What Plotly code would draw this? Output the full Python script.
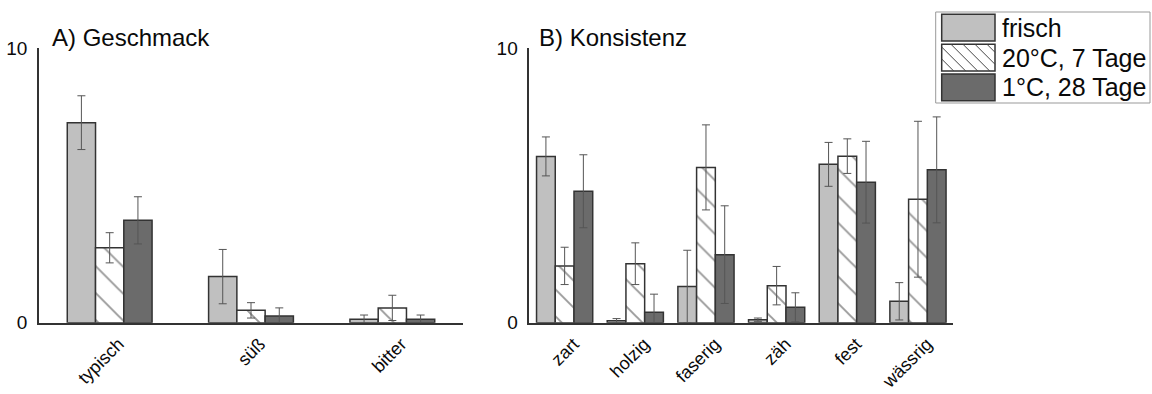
import plotly.graph_objects as go

W, H = 1152, 394

# ---------------- data ----------------
cats_a = ["typisch", "süß", "bitter"]
cats_b = ["zart", "holzig", "faserig", "zäh", "fest", "wässrig"]
series = ["frisch", "20°C, 7 Tage", "1°C, 28 Tage"]

a_frisch = [7.29, 1.68, 0.13]
a_frisch_err = [0.98, 0.99, 0.15]
a_20 = [2.73, 0.45, 0.54]
a_20_err = [0.55, 0.28, 0.46]
a_1 = [3.73, 0.24, 0.13]
a_1_err = [0.86, 0.30, 0.15]

b_frisch = [6.06, 0.07, 1.32, 0.11, 5.77, 0.78]
b_frisch_err = [0.71, 0.08, 1.32, 0.06, 0.80, 0.68]
b_20 = [2.07, 2.15, 5.66, 1.35, 6.07, 4.50]
b_20_err = [0.68, 0.76, 1.55, 0.70, 0.63, 2.84]
b_1 = [4.79, 0.38, 2.48, 0.56, 5.12, 5.57]
b_1_err = [1.33, 0.66, 1.78, 0.53, 1.49, 1.93]

y_ticks = [0, 10]

# ---------------- styles ----------------
FONT = "Liberation Sans, Arial, sans-serif"
OUT = "#333333"
LIGHT = "#c0c0c0"
DARK = "#6b6b6b"
TXT = "#0a0a0a"
ERR = dict(type="data", color="#555555", thickness=1, width=4)

styles = [
    dict(marker=dict(color=LIGHT, line=dict(color=OUT, width=1.5))),
    dict(marker=dict(color="white", line=dict(color=OUT, width=1.5),
                     pattern=dict(shape="\\", fgcolor="#333333", bgcolor="white",
                                  size=19, solidity=0.1))),
    dict(marker=dict(color=DARK, line=dict(color=OUT, width=1.5))),
]

fig = go.Figure()

def add_panel(cats, vals, errs, xa, ya, bw):
    offs = [-1.5 * bw, -0.5 * bw, 0.5 * bw]
    for i, (v, e) in enumerate(zip(vals, errs)):
        fig.add_trace(go.Bar(
            x=cats, y=v, name=series[i], showlegend=False,
            width=bw, offset=offs[i],
            error_y=dict(array=e, **ERR),
            xaxis=xa, yaxis=ya, **styles[i]))

add_panel(cats_a, [a_frisch, a_20, a_1], [a_frisch_err, a_20_err, a_1_err], "x", "y", 0.2)
add_panel(cats_b, [b_frisch, b_20, b_1], [b_frisch_err, b_20_err, b_1_err], "x2", "y2", 0.265)

def px(x):
    return x / W

def py(y):
    return 1 - y / H

ydom = [py(322.7), py(48.3)]
xcommon = dict(showline=True, linecolor=OUT, linewidth=1.5, ticks="", showgrid=False,
               zeroline=False, tickangle=-45, ticklabelstandoff=2, ticklabelshift=9,
               tickfont=dict(family=FONT, size=18, color=TXT),
               fixedrange=True)
ycommon = dict(showline=True, linecolor=OUT, linewidth=1.5, ticks="", showgrid=False,
               zeroline=False, range=[0, 10], tickvals=y_ticks, ticktext=[str(t) for t in y_ticks],
               ticklabelstandoff=6,
               tickfont=dict(family=FONT, size=19, color=TXT), fixedrange=True)

fig.update_layout(
    width=W, height=H,
    margin=dict(l=0, r=0, t=0, b=0, autoexpand=False),
    paper_bgcolor="white", plot_bgcolor="white",
    barmode="overlay",
    font=dict(family=FONT, color=TXT),
    xaxis=dict(domain=[px(39), px(463)], anchor="y", **xcommon),
    yaxis=dict(domain=ydom, anchor="x", **ycommon),
    xaxis2=dict(domain=[px(529.3), px(953.3)], anchor="y2", **xcommon),
    yaxis2=dict(domain=ydom, anchor="x2", **ycommon),
)

# panel titles
for txt, x0 in [("A) Geschmack", 50), ("B) Konsistenz", 537)]:
    fig.add_annotation(text=txt, xref="paper", yref="paper", x=px(x0), y=py(37),
                       xanchor="left", yanchor="middle", showarrow=False,
                       font=dict(family=FONT, size=24, color=TXT))

# manual legend
fig.add_shape(type="rect", xref="paper", yref="paper",
              x0=px(935.7), x1=px(1150), y0=py(103), y1=py(12),
              line=dict(color="#999999", width=1), fillcolor="white", layer="above")
rows = [(14.3, 41.0), (44.3, 71.0), (74.0, 100.7)]
sx0, sx1 = 941.7, 995.0
fills = [LIGHT, "white", DARK]
for (t, b), f, name in zip(rows, fills, series):
    fig.add_shape(type="rect", xref="paper", yref="paper",
                  x0=px(sx0), x1=px(sx1), y0=py(b), y1=py(t),
                  line=dict(color=OUT, width=1.5), fillcolor=f, layer="above")
    fig.add_annotation(text=name, xref="paper", yref="paper", x=px(1000), y=py((t + b) / 2),
                       xanchor="left", yanchor="middle", showarrow=False,
                       font=dict(family=FONT, size=25, color=TXT))

# hatch lines in legend swatch 2
t, b = rows[1]
h = b - t
step = 12
xs = sx0 - h
while xs < sx1:
    x_a, y_a = xs, t
    x_b, y_b = xs + h, b
    if x_a < sx0:
        y_a = t + (sx0 - x_a)
        x_a = sx0
    if x_b > sx1:
        y_b = b - (x_b - sx1)
        x_b = sx1
    if x_b > x_a:
        fig.add_shape(type="line", xref="paper", yref="paper",
                      x0=px(x_a), y0=py(y_a), x1=px(x_b), y1=py(y_b),
                      line=dict(color="#444444", width=1), layer="above")
    xs += step

fig.write_html("out.html")
